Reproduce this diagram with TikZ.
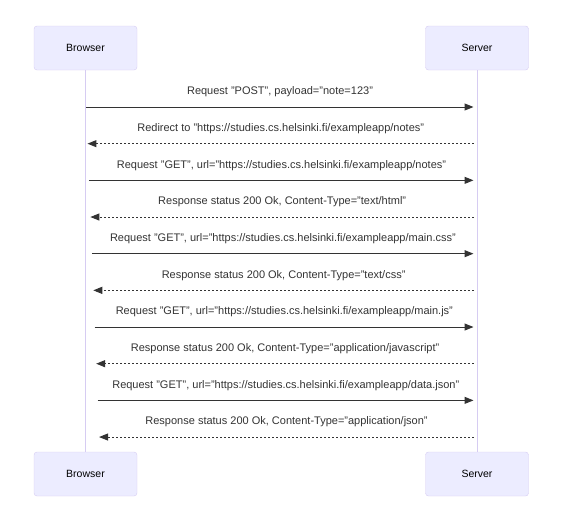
\documentclass[tikz,border=0pt]{standalone}
\usepackage{fontspec}
\setmainfont{Liberation Sans}
\usetikzlibrary{arrows.meta}
\definecolor{actfill}{HTML}{ECECFF}
\definecolor{actborder}{HTML}{D6CCF2}
\definecolor{sig}{HTML}{333333}
\begin{document}
\begin{tikzpicture}[x=1pt,y=-1pt,
  actor/.style={draw=actborder,fill=actfill,rounded corners=3pt,minimum width=103pt,minimum height=44pt,inner sep=0pt,font=\fontsize{10.5}{12}\selectfont,text=black},
  lifeline/.style={draw=actborder,line width=1pt},
  req/.style={draw=sig,line width=1pt,-{Triangle[length=9pt,width=7pt]}},
  resp/.style={draw=sig,line width=1pt,dash pattern=on 2pt off 2pt,-{Triangle[length=9pt,width=7pt]}},
  msg/.style={font=\fontsize{11}{13}\selectfont,text=sig,inner sep=0pt}]
\useasboundingbox (0,0) rectangle (563,523);
\node[actor] (bt) at (85.5,48) {Browser};
\node[actor] (st) at (477,48) {Server};
\node[actor] (bb) at (85.5,474) {Browser};
\node[actor] (sb) at (477,474) {Server};
\draw[lifeline] (bt.south) -- (bb.north);
\draw[lifeline] (st.south) -- (sb.north);
\foreach \i/\t in {
 0/{Request "POST", payload="note=123"},
 1/{Redirect to "https://studies.cs.helsinki.fi/exampleapp/notes"},
 2/{Request "GET", url="https://studies.cs.helsinki.fi/exampleapp/notes"},
 3/{Response status 200 Ok, Content-Type="text/html"},
 4/{Request "GET", url="https://studies.cs.helsinki.fi/exampleapp/main.css"},
 5/{Response status 200 Ok, Content-Type="text/css"},
 6/{Request "GET", url="https://studies.cs.helsinki.fi/exampleapp/main.js"},
 7/{Response status 200 Ok, Content-Type="application/javascript"},
 8/{Request "GET", url="https://studies.cs.helsinki.fi/exampleapp/data.json"},
 9/{Response status 200 Ok, Content-Type="application/json"}}{
  \pgfmathsetmacro{\yy}{107+36.67*\i}
  \pgfmathsetmacro{\xl}{86+1.45*\i}
  \coordinate (L\i) at (\xl,\yy);
  \coordinate (R\i) at (473.5,\yy);
  \node[msg] (m\i) at ({(\xl+474)/2},\yy-15) {\t};
}
\foreach \i in {0,2,4,6,8} {\draw[req] (L\i) -- (R\i);}
\foreach \i in {1,3,5,7,9} {\draw[resp] (R\i) -- (L\i);}
\end{tikzpicture}
\end{document}
